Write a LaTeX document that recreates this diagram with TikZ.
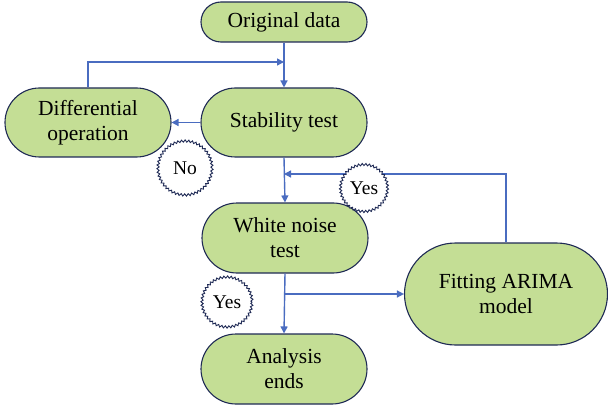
\documentclass[tikz,border=0pt]{standalone}
\usepackage{fontspec}
\setmainfont{Liberation Serif}
\usetikzlibrary{arrows.meta,decorations.pathmorphing}
\definecolor{boxfill}{HTML}{C4DE95}
\definecolor{boxline}{HTML}{1F2A55}
\definecolor{flow}{HTML}{4A6CC0}
\tikzset{
  procbox/.style={draw=boxline, fill=boxfill, line width=1.1pt, align=center,
    font=\fontsize{21.5}{25}\selectfont, inner sep=0pt},
  pill/.style={procbox, rectangle, rounded corners=#1, minimum height=2*#1},
  burst/.style={circle, draw=boxline, fill=white, line width=0.9pt, inner sep=0pt,
    minimum size=#1, font=\fontsize{19.5}{22}\selectfont,
    decorate, decoration={zigzag, segment length=3.6pt, amplitude=1.1pt}},
  flowline/.style={draw=flow, line width=1.4pt},
  flowarrow/.style={flowline, -{Triangle[width=7pt,length=7pt]}}
}
\begin{document}
\begin{tikzpicture}[x=1pt, y=-1pt]
  \useasboundingbox (0,0) rectangle (608,409);

  % process boxes
  \node[pill=20, minimum width=166] (orig) at (284,22) {Original data};
  \node[pill=34.5, minimum width=166] (stab) at (284,122.5) {Stability test};
  \node[pill=34.5, minimum width=166] (diff) at (88,122.5) {Differential\\operation};
  \node[pill=35, minimum width=166] (white) at (285,238) {White noise\\test};
  \node[pill=51, minimum width=203] (fit) at (506,294) {Fitting ARIMA\\model};
  \node[pill=35, minimum width=166] (anal) at (284,369) {Analysis\\ends};

  % junction points on the main vertical line
  \coordinate (j1) at (284,62);
  \coordinate (j2) at (284,174);
  \coordinate (j3) at (284,294);

  % connectors
  \draw[flowarrow] (orig.south) -- (stab.north);
  \draw[flowarrow] (diff.north) |- (j1);
  \draw[flowarrow] (stab.west) -- (diff.east);
  \draw[flowarrow] (stab.south) -- (white.north);
  \draw[flowarrow] (fit.north) |- (j2);
  \draw[flowarrow] (white.south) -- (anal.north);
  \draw[flowarrow] (j3) -- (fit.west);

  % decision labels
  \node[burst=54pt] (no) at (185,168) {No};
  \node[burst=47pt] (yes1) at (364,188) {Yes};
  \node[burst=50pt] (yes2) at (227,302) {Yes};
\end{tikzpicture}
\end{document}
